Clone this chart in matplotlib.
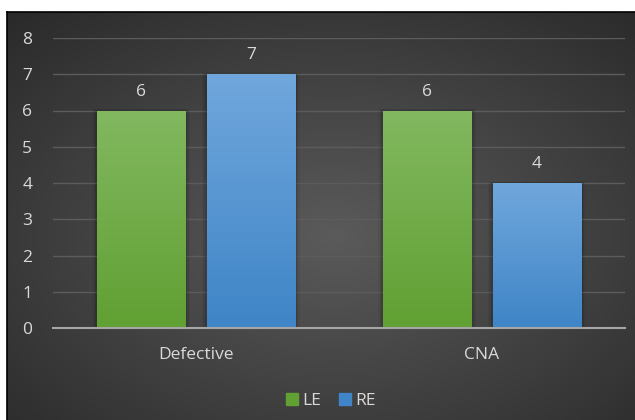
import matplotlib
matplotlib.use("Agg")
import matplotlib.pyplot as plt
import numpy as np
from matplotlib.patches import Patch, Rectangle

categories = ["Defective", "CNA"]
le_values = [6, 6]
re_values = [7, 4]
series_names = ["LE", "RE"]

plt.rcParams["font.family"] = ["Open Sans", "DejaVu Sans"]
txt = "#d9d9d9"
fs = 12.5

W, H = 635, 420
fig = plt.figure(figsize=(W / 100, H / 100), dpi=100)
fig.patch.set_facecolor("white")

# dark radial background of the chart area
bg = fig.add_axes([7 / W, 0, (W - 7) / W, (H - 12) / H])
yy, xx = np.mgrid[0:1:300j, 0:1:450j]
r = np.sqrt(((xx - 0.52) / 0.75) ** 2 + ((yy - 0.45) / 0.75) ** 2)
shade = np.clip(0.355 - 0.19 * r, 0.15, 0.37)
bg.imshow(np.dstack([shade] * 3), aspect="auto", extent=[0, 1, 0, 1], origin="lower")
bg.set_axis_off()
fig.add_artist(plt.Line2D([7 / W, 1], [1 - 11.5 / H] * 2, color="black", lw=1.2))
fig.add_artist(plt.Line2D([7 / W] * 2, [0, 1 - 11.5 / H], color="black", lw=1.2))

ax = fig.add_axes([53 / W, (H - 328) / H, 572 / W, 290 / H])
ax.set_facecolor("none")

x = np.arange(len(categories))
bw = 0.308
off = 0.192
grads = {
    "LE": ("#82b860", "#61a033"),
    "RE": ("#70a7dc", "#3f85c7"),
}
for vals, name, sign in [(le_values, "LE", -1), (re_values, "RE", 1)]:
    bars = ax.bar(x + sign * off, vals, bw, color="none", zorder=3)
    top, bot = [np.array(matplotlib.colors.to_rgb(c)) for c in grads[name]]
    for b, v in zip(bars, vals):
        x0, w, h = b.get_x(), b.get_width(), b.get_height()
        # soft shadow
        for k, a in enumerate([0.10, 0.07, 0.04]):
            d = 0.006 * (k + 1)
            ax.add_patch(Rectangle((x0 - d, 0), w + 2 * d, h + d * 3, color="black",
                                   alpha=a, lw=0, zorder=2))
        t = np.linspace(0, 1, 100)[:, None]
        img = bot + (top - bot) * t
        im = ax.imshow(img[:, None, :].repeat(2, axis=1), extent=[x0, x0 + w, 0, h],
                       origin="lower", aspect="auto", zorder=3)
        im.set_clip_path(b)
        ax.text(x0 + w / 2, v + 0.3, f"{v}", ha="center", va="bottom",
                color=txt, fontsize=fs)

ax.set_xlim(-0.5, 1.5)
ax.set_ylim(0, 8)
ax.set_yticks(range(0, 9))
ax.set_xticks(x)
ax.set_xticklabels(categories)
ax.tick_params(length=0, colors=txt, labelsize=fs)
ax.tick_params(axis="y", pad=15)
ax.tick_params(axis="x", pad=14)
ax.grid(axis="y", color="#5c5c5c", lw=1, zorder=0)
for s in ["top", "right", "left"]:
    ax.spines[s].set_visible(False)
ax.spines["bottom"].set_color("#a6a6a6")
ax.spines["bottom"].set_linewidth(1.5)
ax.spines["bottom"].set_zorder(4)

handles = [Patch(color=grads["LE"][1]), Patch(color=grads["RE"][1])]
fig.legend(handles, series_names, loc="center", bbox_to_anchor=(331 / W, 1 - 401 / H),
           ncol=2, frameon=False, handlelength=0.7, handleheight=0.7,
           handletextpad=0.25, columnspacing=1.0, labelcolor=txt, fontsize=fs)

fig.savefig("out.png", dpi=100, facecolor="white")
